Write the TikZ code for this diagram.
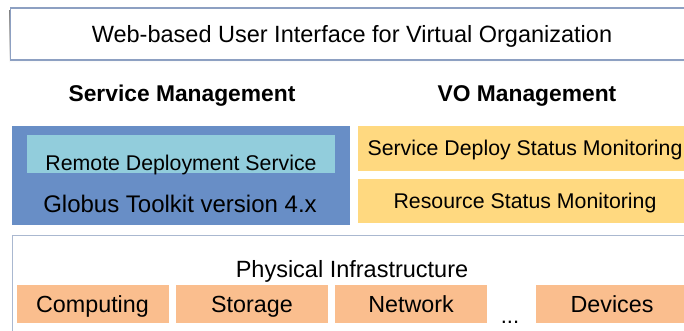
\documentclass[tikz,border=0pt]{standalone}
\usepackage{fontspec}
\setmainfont{Liberation Sans}
\definecolor{frame}{RGB}{141,160,194}
\definecolor{shade}{RGB}{118,136,170}
\definecolor{toolkit}{RGB}{104,142,198}
\definecolor{rds}{RGB}{146,205,220}
\definecolor{vo}{RGB}{255,217,128}
\definecolor{infra}{RGB}{250,190,142}
\definecolor{pframe}{RGB}{170,184,208}
\tikzstyle{layer}=[rectangle, draw=frame, line width=1.2pt, fill=white, inner sep=0pt]
\tikzstyle{block}=[rectangle, inner sep=0pt, text height=15pt, text depth=0pt,
  font=\fontsize{21.3}{24}\selectfont]
\tikzstyle{head}=[inner sep=0pt, anchor=base, font=\bfseries\fontsize{22.8}{26}\selectfont]
\tikzstyle{res}=[block, fill=infra, minimum width=152pt, minimum height=38pt,
  font=\fontsize{23.3}{26}\selectfont, text height=17pt]
\newcommand{\resbox}{\node[res]}

\begin{document}
\begin{tikzpicture}[x=1pt, y=-1pt]
\useasboundingbox (0,0) rectangle (684,331);
% top layer
\fill[shade] (9,11) rectangle (690,63);
\node[layer, block, minimum width=683pt, minimum height=52pt, font=\fontsize{23.5}{26}\selectfont,
  text height=17pt] (ui) at (352,34)
  {Web-based User Interface for Virtual Organization};
% headings
\node[head] (sm) at (182,102) {Service Management};
\node[head] (vom) at (527,102) {VO Management};
% left column
\node[block, fill=toolkit, minimum width=338pt, minimum height=99pt] (gtk) at (181,175.5) {};
\node[block, fill=rds, minimum width=308pt, minimum height=38pt, text height=32pt] (rds) at (181,154)
  {Remote Deployment Service};
\node[inner sep=0pt, anchor=base, font=\fontsize{24}{27}\selectfont] (gtv) at (180,212)
  {Globus Toolkit version 4.x};
% right column
\node[block, fill=vo, minimum width=334pt, minimum height=45pt] (sdsm) at (525,148.5)
  {Service Deploy Status Monitoring};
\node[block, fill=vo, minimum width=334pt, minimum height=44pt] (rsm) at (525,201)
  {Resource Status Monitoring};
% physical layer
\node[rectangle, draw=pframe, line width=0.8pt, minimum width=690pt, minimum height=110pt,
  inner sep=0pt] (phy) at (357,290) {};
\node[inner sep=0pt, anchor=base, font=\fontsize{23.5}{26}\selectfont] (pi) at (352,277)
  {Physical Infrastructure};
\resbox (comp) at (92.5,303.5) {Computing};
\resbox (stor) at (252,303.5) {Storage};
\resbox (net) at (411,303.5) {Network};
\node[inner sep=0pt, anchor=base, font=\fontsize{22}{26}\selectfont] (dots) at (510,323) {...};
\resbox (dev) at (612,303.5) {Devices};
\end{tikzpicture}
\end{document}
